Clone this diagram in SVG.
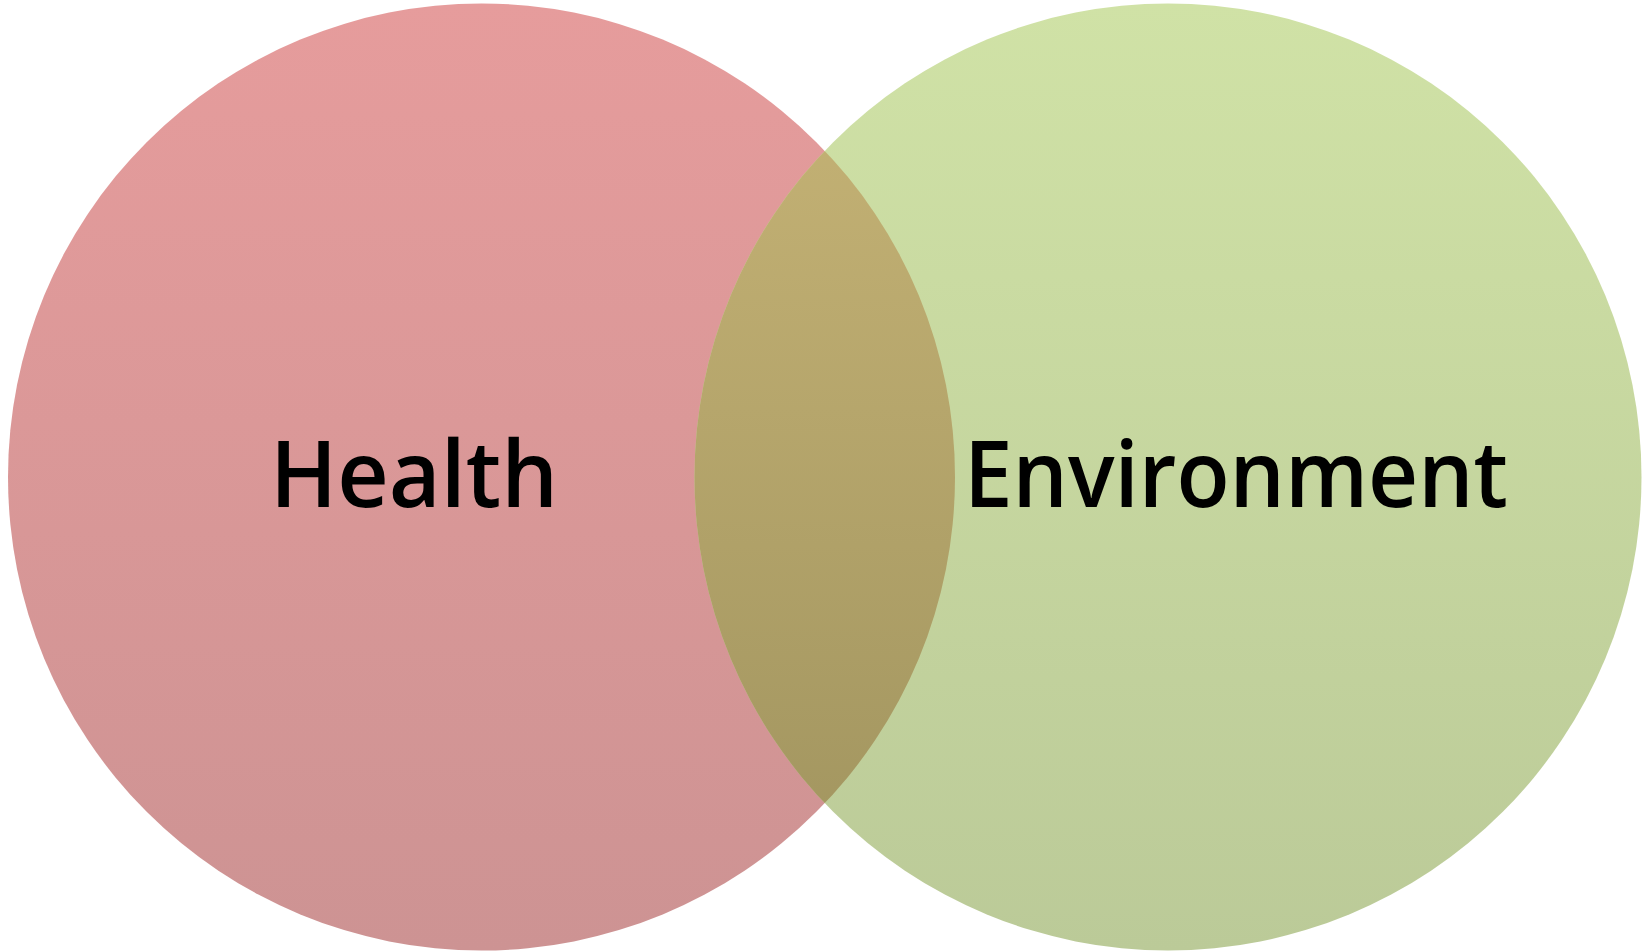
<svg xmlns="http://www.w3.org/2000/svg" width="1642" height="952" viewBox="0 0 1642 952">
  <defs>
    <linearGradient id="gL" gradientUnits="userSpaceOnUse" x1="0" y1="3" x2="0" y2="951">
      <stop offset="0" stop-color="#E69C9C"/>
      <stop offset="1" stop-color="#CD9393"/>
    </linearGradient>
    <linearGradient id="gR" gradientUnits="userSpaceOnUse" x1="0" y1="3" x2="0" y2="951">
      <stop offset="0" stop-color="#D0E2A6"/>
      <stop offset="1" stop-color="#BBCA98"/>
    </linearGradient>
    <linearGradient id="gO" gradientUnits="userSpaceOnUse" x1="0" y1="3" x2="0" y2="951">
      <stop offset="0" stop-color="#C8B577"/>
      <stop offset="1" stop-color="#9E925D"/>
    </linearGradient>
    <clipPath id="clipL">
      <circle cx="481.5" cy="477" r="473.5"/>
    </clipPath>
    <style>
      .lbl { font-family: "Open Sans", "Liberation Sans", sans-serif; font-size: 92px; font-weight: 600; fill: #000000; }
    </style>
  </defs>
  <rect width="1642" height="952" fill="#FFFFFF"/>
  <g id="health">
    <circle cx="481.5" cy="477" r="473.5" fill="url(#gL)"/>
  </g>
  <g id="environment">
    <circle cx="1168" cy="477" r="473.5" fill="url(#gR)"/>
  </g>
  <g id="overlap">
    <circle cx="1168" cy="477" r="473.5" fill="url(#gO)" clip-path="url(#clipL)"/>
  </g>
  <g id="labels">
    <text class="lbl" x="270" y="507" textLength="288" lengthAdjust="spacingAndGlyphs">Health</text>
    <text class="lbl" x="964" y="507" textLength="544" lengthAdjust="spacingAndGlyphs">Environment</text>
  </g>
</svg>
